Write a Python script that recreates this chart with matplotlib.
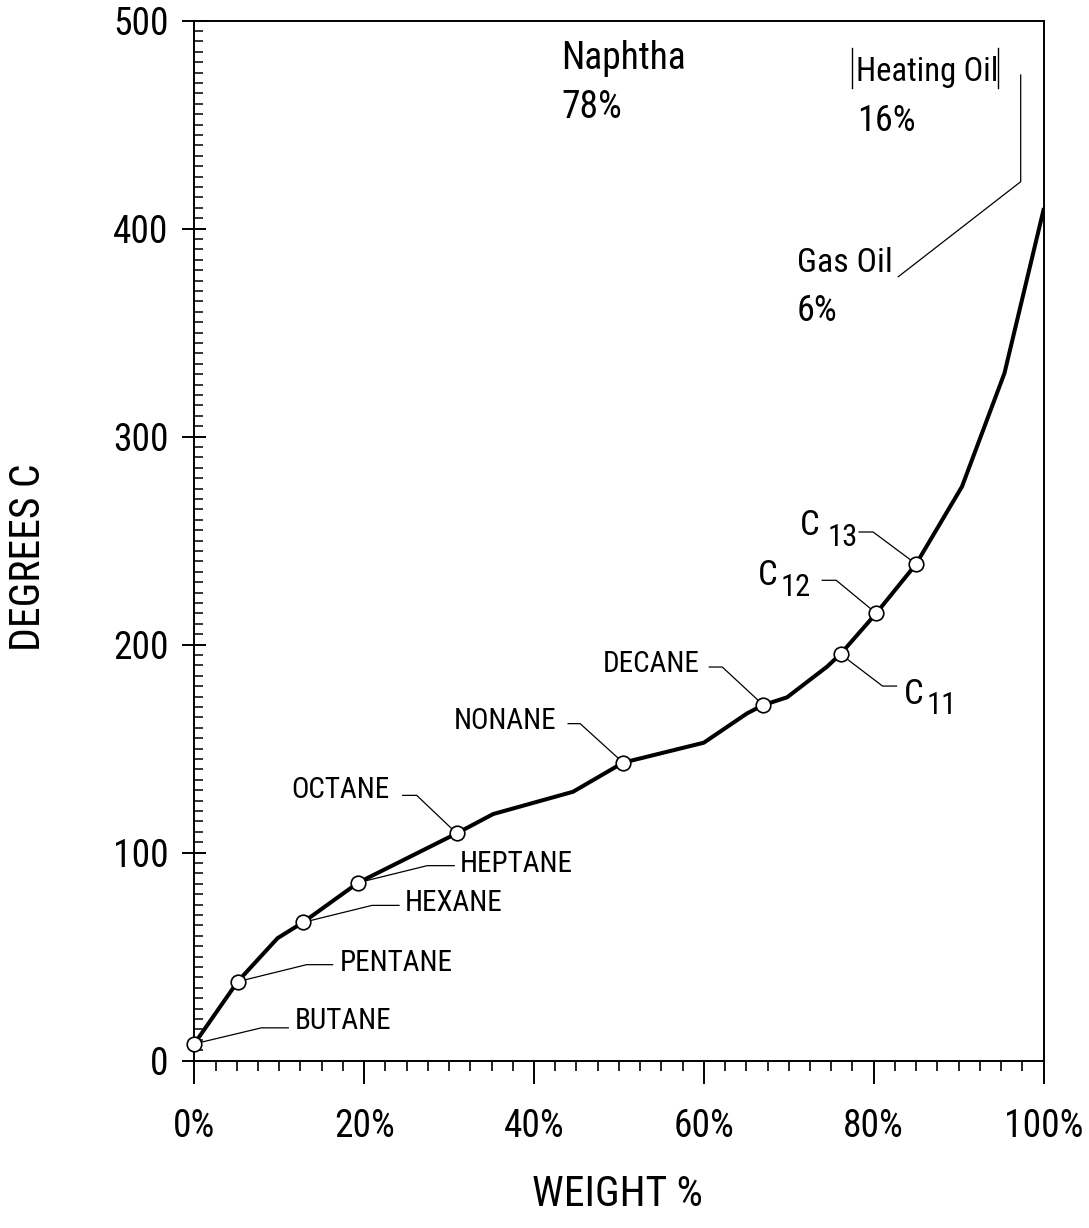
import matplotlib
matplotlib.use("Agg")
import matplotlib.pyplot as plt
import matplotlib.transforms as mtransforms
from matplotlib import font_manager
from matplotlib.ticker import MultipleLocator

# ---------------- data ----------------
curve_x = [0, 5.1, 9.8, 12.8, 19.3, 30.9, 35.2, 44.6, 50.5, 60.0, 65.1, 67.0,
           69.8, 74.5, 76.1, 80.3, 85.0, 90.4, 95.4, 100.0]
curve_y = [8, 37.9, 58.8, 66.4, 85.5, 109.2, 118.5, 129.2, 143.2, 152.8, 166.9,
           170.9, 174.6, 189.3, 195.4, 215.0, 238.7, 275.9, 330.4, 408.9]

comp_names = ["BUTANE", "PENTANE", "HEXANE", "HEPTANE", "OCTANE", "NONANE",
              "DECANE", "C11", "C12", "C13"]
comp_x = [0, 5.1, 12.8, 19.3, 30.9, 50.5, 67.0, 76.1, 80.3, 85.0]
comp_y = [8, 37.9, 66.4, 85.5, 109.2, 143.2, 170.9, 195.4, 215.0, 238.7]

xticks = [0, 20, 40, 60, 80, 100]
xtick_labels = ["0%", "20%", "40%", "60%", "80%", "100%"]
yticks = [0, 100, 200, 300, 400, 500]
ytick_labels = ["0", "100", "200", "300", "400", "500"]

fractions = [("Naphtha", "78%"), ("Heating Oil", "16%"), ("Gas Oil", "6%")]

# ---------------- font ----------------
avail = {f.name for f in font_manager.fontManager.ttflist}
family = "DejaVu Sans"
stretch = "normal"
for cand in ["Liberation Sans Narrow", "Roboto Condensed", "Open Sans Condensed",
             "Noto Sans Condensed"]:
    if cand in avail:
        family = cand
        break
else:
    conds = [f for f in font_manager.fontManager.ttflist
             if f.name == "DejaVu Sans" and str(f.stretch) in ("condensed", "semi-condensed")]
    if conds:
        stretch = "condensed"
plt.rcParams["font.family"] = [family, "DejaVu Sans"]
plt.rcParams["font.stretch"] = stretch

W, H = 1089, 1228
DPI = 100
fig = plt.figure(figsize=(W / DPI, H / DPI), dpi=DPI)

def fx(px):
    return px / W

def fy(py):
    return 1 - py / H

x_left, x_right, y_top, y_bot = 194.3, 1043.5, 20.5, 1060.5
ax = fig.add_axes([fx(x_left), fy(y_bot), fx(x_right) - fx(x_left), fy(y_top) - fy(y_bot)])
ax.set_xlim(0, 100)
ax.set_ylim(0, 500)
for s in ax.spines.values():
    s.set_linewidth(1.4)
    s.set_color("black")

ax.plot(curve_x, curve_y, color="black", lw=2.9, solid_joinstyle="round", zorder=3)
ax.plot(comp_x, comp_y, linestyle="none", marker="o", ms=10.5, mfc="white",
        mec="black", mew=1.2, zorder=4, clip_on=False)

# ticks
ax.set_xticks(xticks)
ax.set_xticklabels(xtick_labels)
ax.set_yticks(yticks)
ax.set_yticklabels(ytick_labels)
ax.xaxis.set_minor_locator(MultipleLocator(2.5))
ax.yaxis.set_minor_locator(MultipleLocator(5))
ax.tick_params(axis="x", which="major", direction="out", length=16.5, width=1.4,
               labelsize=27, pad=18)
ax.tick_params(axis="x", which="minor", direction="out", length=7.5, width=1.2)
ax.tick_params(axis="y", which="major", direction="inout", length=17, width=1.4,
               labelsize=27, pad=10)
ax.tick_params(axis="y", which="minor", direction="in", length=6.5, width=1.1)

# leader offsets in pixels (knee, end, text) relative to the marker
leaders = {
    "BUTANE":  ((67, 16), (94, 16), (100, 23), "left"),
    "PENTANE": ((69, 17), (95, 17), (102, 19), "left"),
    "HEXANE":  ((69, 17), (96, 17), (102, 19), "left"),
    "HEPTANE": ((69, 17), (96, 17), (102, 19), "left"),
    "OCTANE":  ((-40, 38), (-54, 38), (-67, 43), "right"),
    "NONANE":  ((-43, 39), (-55, 39), (-67, 42), "right"),
    "DECANE":  ((-41, 38), (-54, 38), (-64, 41), "right"),
    "C11":     ((42, -32), (56, -32), None, None),
    "C12":     ((-40, 33), (-54, 33), None, None),
    "C13":     ((-43, 32), (-57, 32), None, None),
}
# C-number labels: (C left offset, C center dy, digits left offset, digits center dy)
csub = {
    "C11": (63, -40, 86, -51),
    "C12": (-118, 38, -96, 26),
    "C13": (-116, 39, -89, 27),
}

for name, x, y in zip(comp_names, comp_x, comp_y):
    knee, end, txt, ha = leaders[name]
    tr = mtransforms.Affine2D() + mtransforms.ScaledTranslation(x, y, ax.transData)
    ax.plot([0, knee[0], end[0]], [0, knee[1], end[1]], color="black", lw=0.9,
            transform=tr, clip_on=False, zorder=2)
    if txt is not None:
        ax.annotate(name, xy=(x, y), xytext=txt, textcoords="offset pixels",
                    ha=ha, va="center", fontsize=21)
    else:
        cl, cdy, dl, ddy = csub[name]
        ax.annotate("C", xy=(x, y), xytext=(cl, cdy), textcoords="offset pixels",
                    ha="left", va="center", fontsize=25)
        ax.annotate(name[1:], xy=(x, y), xytext=(dl, ddy), textcoords="offset pixels",
                    ha="left", va="center", fontsize=22)

# fraction labels
fig.text(fx(561), fy(69), fractions[0][0], fontsize=27, ha="left", va="baseline")
fig.text(fx(561), fy(118), fractions[0][1], fontsize=27, ha="left", va="baseline")
fig.text(fx(856), fy(81), fractions[1][0], fontsize=23.5, ha="left", va="baseline")
for bx in (851.7, 998.0):
    fig.add_artist(plt.Line2D([fx(bx), fx(bx)], [fy(48), fy(88)], color="black",
                              lw=1.0, transform=fig.transFigure))
fig.text(fx(857), fy(131), fractions[1][1], fontsize=26, ha="left", va="baseline")
fig.text(fx(797), fy(272), fractions[2][0], fontsize=24.5, ha="left", va="baseline")
fig.text(fx(797), fy(321), fractions[2][1], fontsize=26, ha="left", va="baseline")
fig.add_artist(plt.Line2D([fx(1020.7), fx(1020.7), fx(898.3)],
                          [fy(75), fy(181.7), fy(276.7)], color="black", lw=0.9,
                          transform=fig.transFigure))

# axis labels
fig.text(fx(29), fy(557), "DEGREES C", rotation=90, fontsize=30, ha="center", va="center")
fig.text(fx(617), fy(1195), "WEIGHT %", fontsize=30, ha="center", va="center")

fig.savefig("out.png", dpi=DPI, facecolor="white")
